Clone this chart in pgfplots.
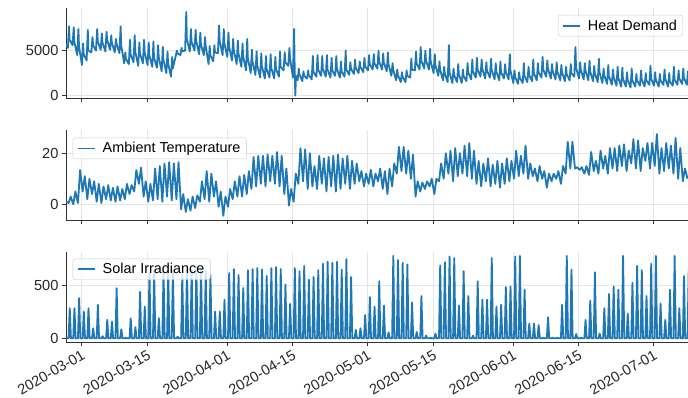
\documentclass[border=0pt]{standalone}
\usepackage{fontspec}
\setmainfont{Liberation Sans}
\usepackage{pgfplots}
\pgfplotsset{compat=1.18}
\definecolor{mplblue}{RGB}{31,119,180}
\pgfplotsset{
 myax/.style={
  width=622pt, height=90pt, scale only axis,
  xmin=-3.35, xmax=129.3,
  axis lines=left, axis line style={-, draw=black!80, line width=0.8pt},
  tick align=outside, major tick length=4pt,
  tick style={black!80, line width=0.8pt},
  xtick={0,14,31,45,61,75,92,106,122},
  xmajorgrids, ymajorgrids, grid style={black!10, line width=0.8pt},
  ticklabel style={font=\fontsize{14.6}{17}\selectfont, text=black!85},
  /pgf/number format/assume math mode=true,
  /pgf/number format/1000 sep={},
  legend cell align=left,
  legend image code/.code={\draw[mplblue, line width=1.8pt] (0pt,0pt) -- (17pt,0pt);},
  legend style={draw=black!20, rounded corners=2.5pt, fill=white, fill opacity=0.8, text opacity=1,
    font=\fontsize{14.4}{17}\selectfont, inner xsep=4pt, inner ysep=2.5pt, column sep=5pt},
 },
 myline/.style={color=mplblue, line width=1.8pt, line join=round},
}
\begin{document}
\begin{tikzpicture}
\path[use as bounding box] (0,0) rectangle (688pt,397pt);
% Heat demand
\begin{axis}[myax, at={(66pt,298.7pt)}, anchor=south west,
  ymin=-300, ymax=9700, ytick={0,5000}, xticklabels={},
  legend style={at={(0.992,0.926)}, anchor=north east}]
\addplot[myline] coordinates {
(-3.35,5800)
(-2.95,5300) (-2.7,7700) (-2.58,6200)
(-1.95,5600) (-1.7,7600) (-1.58,6000)
(-0.95,4500) (-0.7,7400) (-0.58,5500)
(0.05,3400) (0.3,5800) (0.42,4600)
(1.05,3900) (1.3,7300) (1.42,5000)
(2.05,4800) (2.3,6500) (2.42,5600)
(3.05,5000) (3.3,7400) (3.42,6000)
(4.05,5100) (4.3,6900) (4.42,5900)
(5.05,4900) (5.3,7100) (5.42,6200)
(6.05,5100) (6.3,6700) (6.42,5900)
(7.05,4800) (7.3,6300) (7.42,5800)
(8.05,4700) (8.3,7700) (8.42,5600)
(9.05,3600) (9.3,4800) (9.42,4100)
(10.05,3500) (10.3,6200) (10.42,4600)
(11.05,3700) (11.3,6700) (11.42,4900)
(12.05,3300) (12.3,5900) (12.42,4700)
(13.05,3600) (13.3,6200) (13.42,4800)
(14.05,3400) (14.3,5900) (14.42,4500)
(15.05,3200) (15.3,6000) (15.42,4200)
(16.05,3100) (16.3,5600) (16.42,4300)
(17.05,2700) (17.3,5400) (17.42,4000)
(18.05,2500) (18.3,4900) (18.42,3600)
(19.05,2100) (19.3,4300) (19.42,3000)
(20.05,4400) (20.3,5000) (20.42,4700)
(21.05,4500) (21.3,5300) (21.42,4900)
(22.05,5000) (22.3,9300) (22.42,6300)
(23.05,4900) (23.3,7400) (23.42,6000)
(24.05,5000) (24.3,7300) (24.42,6100)
(25.05,4600) (25.3,7000) (25.42,5700)
(26.05,4500) (26.3,6500) (26.42,5600)
(27.05,3500) (27.3,5500) (27.42,4500)
(28.05,3800) (28.3,5600) (28.42,4800)
(29.05,4700) (29.3,7800) (29.42,6100)
(30.05,4500) (30.3,7400) (30.42,5800)
(31.05,4300) (31.3,7000) (31.42,5500)
(32.05,3900) (32.3,6300) (32.42,5100)
(33.05,3500) (33.3,6100) (33.42,4700)
(34.05,3200) (34.3,5800) (34.42,4400)
(35.05,2800) (35.3,6300) (35.42,4200)
(36.05,2500) (36.3,5100) (36.42,3800)
(37.05,2300) (37.3,4900) (37.42,3400)
(38.05,2000) (38.3,4700) (38.42,3300)
(39.05,1900) (39.3,4400) (39.42,3000)
(40.05,2000) (40.3,4600) (40.42,3100)
(41.05,1900) (41.3,4300) (41.42,3000)
(42.05,2100) (42.3,4900) (42.42,3200)
(43.05,2800) (43.3,4800) (43.42,3700)
(44.05,3300) (44.3,5300) (44.42,4200)
(45.05,2000) (45.3,7400) (45.42,3000) (45.55,0) (45.7,2200)
(46.05,1700) (46.3,3000) (46.42,2400)
(47.05,1600) (47.3,2700) (47.42,2200)
(48.05,1900) (48.3,2800) (48.42,2300)
(49.05,1800) (49.3,4400) (49.42,2600)
(50.05,2100) (50.3,4500) (50.42,2900)
(51.05,2200) (51.3,4400) (51.42,3000)
(52.05,2100) (52.3,4500) (52.42,2900)
(53.05,2000) (53.3,4200) (53.42,2800)
(54.05,2200) (54.3,4400) (54.42,3000)
(55.05,2000) (55.3,3800) (55.42,2700)
(56.05,2100) (56.3,5000) (56.42,2900)
(57.05,2300) (57.3,3700) (57.42,3000)
(58.05,2400) (58.3,4000) (58.42,3100)
(59.05,2500) (59.3,3800) (59.42,3200)
(60.05,2600) (60.3,4200) (60.42,3300)
(61.05,2800) (61.3,4500) (61.42,3500)
(62.05,2900) (62.3,4600) (62.42,3600)
(63.05,3000) (63.3,5000) (63.42,3800)
(64.05,2900) (64.3,4700) (64.42,3700)
(65.05,2700) (65.3,4800) (65.42,3500)
(66.05,2200) (66.3,3600) (66.42,2900)
(67.05,1700) (67.3,2900) (67.42,2300)
(68.05,1500) (68.3,2600) (68.42,2100)
(69.05,1500) (69.3,2800) (69.42,2200)
(70.05,2000) (70.3,4100) (70.42,2900)
(71.05,2800) (71.3,4900) (71.42,3600)
(72.05,2900) (72.3,5400) (72.42,3900)
(73.05,3000) (73.3,5000) (73.42,3900)
(74.05,2900) (74.3,5200) (74.42,3800)
(75.05,2500) (75.3,4600) (75.42,3400)
(76.05,2200) (76.3,3800) (76.42,2900)
(77.05,1700) (77.3,3200) (77.42,2500)
(78.05,1500) (78.3,5600) (78.42,2600)
(79.05,1400) (79.3,3000) (79.42,2300)
(80.05,1500) (80.3,3500) (80.42,2400)
(81.05,1400) (81.3,2900) (81.42,2200)
(82.05,1600) (82.3,3600) (82.42,2600)
(83.05,1800) (83.3,4000) (83.42,2700)
(84.05,2000) (84.3,4200) (84.42,2900)
(85.05,2100) (85.3,4000) (85.42,3000)
(86.05,1900) (86.3,3700) (86.42,2800)
(87.05,2000) (87.3,4100) (87.42,2900)
(88.05,1800) (88.3,3600) (88.42,2700)
(89.05,1700) (89.3,3800) (89.42,2600)
(90.05,1900) (90.3,3500) (90.42,2700)
(91.05,1800) (91.3,4600) (91.42,2800)
(92.05,1400) (92.3,2800) (92.42,2100)
(93.05,1300) (93.3,2600) (93.42,2000)
(94.05,1400) (94.3,3600) (94.42,2200)
(95.05,1500) (95.3,3200) (95.42,2300)
(96.05,1600) (96.3,4000) (96.42,2500)
(97.05,1700) (97.3,3600) (97.42,2600)
(98.05,2000) (98.3,4300) (98.42,2900)
(99.05,2100) (99.3,3900) (99.42,3000)
(100.05,1900) (100.3,3500) (100.42,2800)
(101.05,1800) (101.3,3700) (101.42,2700)
(102.05,1700) (102.3,3400) (102.42,2600)
(103.05,1600) (103.3,3200) (103.42,2400)
(104.05,1700) (104.3,3500) (104.42,2500)
(105.05,2100) (105.3,5400) (105.42,3100)
(106.05,1900) (106.3,3700) (106.42,2900)
(107.05,1800) (107.3,3600) (107.42,2800)
(108.05,1700) (108.3,3900) (108.42,2700)
(109.05,1600) (109.3,3300) (109.42,2500)
(110.05,1500) (110.3,4100) (110.42,2600)
(111.05,1400) (111.3,3000) (111.42,2300)
(112.05,1300) (112.3,3400) (112.42,2200)
(113.05,1200) (113.3,2900) (113.42,2100)
(114.05,1100) (114.3,3200) (114.42,2000)
(115.05,1000) (115.3,3100) (115.42,1900)
(116.05,1000) (116.3,2600) (116.42,1800)
(117.05,900) (117.3,3000) (117.42,1700)
(118.05,1000) (118.3,2400) (118.42,1700)
(119.05,1100) (119.3,2800) (119.42,1800)
(120.05,1000) (120.3,2500) (120.42,1700)
(121.05,1200) (121.3,3300) (121.42,1900)
(122.05,1100) (122.3,2600) (122.42,1800)
(123.05,1000) (123.3,2400) (123.42,1700)
(124.05,1200) (124.3,2900) (124.42,1900)
(125.05,1000) (125.3,2500) (125.42,1600)
(126.05,1100) (126.3,3200) (126.42,1800)
(127.05,1200) (127.3,2800) (127.42,1900)
(128.05,1300) (128.3,3000) (128.42,2000)
(129.05,1200) (129.3,2700) (129.42,1900)
};
\addlegendentry{Heat Demand}
\end{axis}
% Ambient temperature
\begin{axis}[myax, at={(66pt,177pt)}, anchor=south west,
  ymin=-6.16, ymax=29.1, ytick={0,20}, xticklabels={},
  legend style={at={(0.0108,0.914)}, anchor=north west}]
\addplot[myline] coordinates {
(-3.35,1)
(-2.8,0.5) (-2.35,3)
(-1.8,0) (-1.35,5)
(-0.8,0.5) (-0.35,13.4)
(0.2,5) (0.65,11)
(1.2,2) (1.65,10)
(2.2,4) (2.65,9)
(3.2,1) (3.65,8)
(4.2,0.5) (4.65,7)
(5.2,2) (5.65,7.5)
(6.2,1.5) (6.65,6.5)
(7.2,1) (7.65,7)
(8.2,1.5) (8.65,6)
(9.2,2) (9.65,8)
(10.2,4) (10.65,7.5)
(11.2,5) (11.65,13.4)
(12.2,8) (12.65,14.4)
(13.2,3) (13.65,9)
(14.2,1) (14.65,8)
(15.2,1.5) (15.65,14)
(16.2,2) (16.65,15)
(17.2,1) (17.65,16)
(18.2,3) (18.65,16.5)
(19.2,1.5) (19.65,16)
(20.2,2) (20.65,16.5)
(21.2,-2) (21.65,4)
(22.2,-3) (22.65,2)
(23.2,-2.5) (23.65,3)
(24.2,-1.5) (24.65,3.5)
(25.2,1) (25.65,9)
(26.2,2) (26.65,13)
(27.2,1) (27.65,12)
(28.2,3) (28.65,9)
(29.2,-1) (29.65,5)
(30.2,-4.5) (30.65,3)
(31.2,-1) (31.65,6)
(32.2,2) (32.65,9)
(33.2,3) (33.65,11)
(34.2,3) (34.65,11.5)
(35.2,4) (35.65,13)
(36.2,6) (36.65,18.5)
(37.2,7) (37.65,19)
(38.2,8) (38.65,19)
(39.2,7) (39.65,19.5)
(40.2,9) (40.65,19)
(41.2,8) (41.65,20.5)
(42.2,7) (42.65,19)
(43.2,4) (43.65,14)
(44.2,-0.5) (44.65,6)
(45.2,1) (45.65,12)
(46.2,8) (46.65,22)
(47.2,9) (47.65,21.5)
(48.2,6) (48.65,20)
(49.2,7) (49.65,15)
(50.2,6) (50.65,19)
(51.2,8) (51.65,18)
(52.2,5) (52.65,18.5)
(53.2,7) (53.65,19)
(54.2,5) (54.65,19.5)
(55.2,6) (55.65,18)
(56.2,8) (56.65,19)
(57.2,6) (57.65,17)
(58.2,8) (58.65,16)
(59.2,9) (59.65,13)
(60.2,7) (60.65,12)
(61.2,8) (61.65,13.5)
(62.2,7) (62.65,12)
(63.2,9) (63.65,14)
(64.2,6) (64.65,13)
(65.2,4) (65.65,14)
(66.2,7) (66.65,16)
(67.2,12) (67.65,22.5)
(68.2,13) (68.65,22.5)
(69.2,12) (69.65,21)
(70.2,10) (70.65,19.5)
(71.2,3) (71.65,9)
(72.2,5) (72.65,8.5)
(73.2,6) (73.65,9)
(74.2,7) (74.65,10)
(75.2,4) (75.65,10)
(76.2,9) (76.65,16)
(77.2,10) (77.65,20)
(78.2,12) (78.65,21)
(79.2,9) (79.65,22)
(80.2,11) (80.65,20)
(81.2,12) (81.65,23)
(82.2,11) (82.65,24)
(83.2,10) (83.65,21)
(84.2,8) (84.65,17)
(85.2,7) (85.65,16)
(86.2,9) (86.65,18)
(87.2,7) (87.65,15.5)
(88.2,8) (88.65,17)
(89.2,6.5) (89.65,16)
(90.2,8) (90.65,18)
(91.2,9) (91.65,17)
(92.2,10) (92.65,21)
(93.2,11) (93.65,19)
(94.2,12) (94.65,23)
(95.2,10) (95.65,16)
(96.2,11) (96.65,14)
(97.2,9) (97.65,15)
(98.2,10) (98.65,13)
(99.2,6.5) (99.65,12)
(100.2,9) (100.65,12)
(101.2,10) (101.65,13)
(102.2,8) (102.65,15)
(103.2,12) (103.65,24.5)
(104.2,14) (104.65,24.5)
(105.2,14) (105.65,14.5)
(106.2,13.5) (106.65,14.5)
(107.2,12) (107.65,15)
(108.2,11.5) (108.65,20.5)
(109.2,13) (109.65,17)
(110.2,12) (110.65,21)
(111.2,14) (111.65,19)
(112.2,12) (112.65,22)
(113.2,14) (113.65,22)
(114.2,13) (114.65,23)
(115.2,15) (115.65,23.5)
(116.2,13) (116.65,21)
(117.2,16) (117.65,25.5)
(118.2,14) (118.65,25)
(119.2,13) (119.65,22)
(120.2,17) (120.65,24)
(121.2,14) (121.65,24)
(122.2,15) (122.65,27.5)
(123.2,12) (123.65,22)
(124.2,13) (124.65,24)
(125.2,14) (125.65,23)
(126.2,12) (126.65,26)
(127.2,10) (127.65,22)
(128.2,9) (128.65,14)
(129.2,10)
};
\addlegendentry{Ambient Temperature}
\end{axis}
% Solar irradiance
\begin{axis}[myax, at={(66pt,54.7pt)}, anchor=south west,
  ymin=-38, ymax=814, ytick={0,500},
  xticklabels={2020-03-01,2020-03-15,2020-04-01,2020-04-15,2020-05-01,2020-05-15,2020-06-01,2020-06-15,2020-07-01},
  xticklabel style={rotate=30, anchor=north east, inner sep=2pt},
  legend style={at={(0.0108,0.93)}, anchor=north west}]
\addplot[myline] coordinates {
(-3.35,0)
(-2.8,0) (-2.55,285) (-2.3,0)
(-1.8,0) (-1.55,285) (-1.3,0)
(-0.8,0) (-0.55,380) (-0.3,0)
(0.2,0) (0.45,253) (0.7,0)
(1.2,0) (1.45,285) (1.7,0)
(2.2,0) (2.45,95) (2.7,0)
(3.2,0) (3.45,317) (3.7,0)
(4.2,0) (4.45,20) (4.7,0)
(5.2,0) (5.45,174) (5.7,0)
(6.2,0) (6.45,158) (6.7,0)
(7.2,0) (7.45,475) (7.7,0)
(8.2,0) (8.45,85) (8.7,0)
(9.2,0) (9.45,5) (9.7,0)
(10.2,0) (10.45,190) (10.7,0)
(11.2,0) (11.45,105) (11.7,0)
(12.2,0) (12.45,440) (12.7,0)
(13.2,0) (13.45,300) (13.7,0)
(14.2,0) (14.45,620) (14.7,0)
(15.2,0) (15.45,640) (15.7,0)
(16.2,0) (16.45,190) (16.7,0)
(17.2,0) (17.45,650) (17.7,0)
(18.2,0) (18.45,660) (18.7,0)
(19.2,0) (19.45,640) (19.7,0)
(20.2,0) (20.45,15) (20.7,0)
(21.2,0) (21.45,600) (21.7,0)
(22.2,0) (22.45,670) (22.7,0)
(23.2,0) (23.45,650) (23.7,0)
(24.2,0) (24.45,680) (24.7,0)
(25.2,0) (25.45,660) (25.7,0)
(26.2,0) (26.45,640) (26.7,0)
(27.2,0) (27.45,600) (27.7,0)
(28.2,0) (28.45,253) (28.7,0)
(29.2,0) (29.45,253) (29.7,0)
(30.2,0) (30.45,365) (30.7,0)
(31.2,0) (31.45,618) (31.7,0)
(32.2,0) (32.45,655) (32.7,0)
(33.2,0) (33.45,600) (33.7,0)
(34.2,0) (34.45,475) (34.7,0)
(35.2,0) (35.45,645) (35.7,0)
(36.2,0) (36.45,655) (36.7,0)
(37.2,0) (37.45,665) (37.7,0)
(38.2,0) (38.45,650) (38.7,0)
(39.2,0) (39.45,590) (39.7,0)
(40.2,0) (40.45,665) (40.7,0)
(41.2,0) (41.45,675) (41.7,0)
(42.2,0) (42.45,655) (42.7,0)
(43.2,0) (43.45,510) (43.7,0)
(44.2,0) (44.45,325) (44.7,0)
(45.2,0) (45.45,665) (45.7,0)
(46.2,0) (46.45,635) (46.7,0)
(47.2,0) (47.45,685) (47.7,0)
(48.2,0) (48.45,555) (48.7,0)
(49.2,0) (49.45,580) (49.7,0)
(50.2,0) (50.45,645) (50.7,0)
(51.2,0) (51.45,705) (51.7,0)
(52.2,0) (52.45,725) (52.7,0)
(53.2,0) (53.45,715) (53.7,0)
(54.2,0) (54.45,725) (54.7,0)
(55.2,0) (55.45,650) (55.7,0)
(56.2,0) (56.45,750) (56.7,0)
(57.2,0) (57.45,580) (57.7,0)
(58.2,0) (58.45,80) (58.7,0)
(59.2,0) (59.45,95) (59.7,0)
(60.2,0) (60.45,220) (60.7,0)
(61.2,0) (61.45,390) (61.7,0)
(62.2,0) (62.45,300) (62.7,0)
(63.2,0) (63.45,540) (63.7,0)
(64.2,0) (64.45,310) (64.7,0)
(65.2,0) (65.45,55) (65.7,0)
(66.2,0) (66.45,780) (66.7,0)
(67.2,0) (67.45,740) (67.7,0)
(68.2,0) (68.45,715) (68.7,0)
(69.2,0) (69.45,700) (69.7,0)
(70.2,0) (70.45,340) (70.7,0)
(71.2,0) (71.45,60) (71.7,0)
(72.2,0) (72.45,400) (72.7,0)
(73.2,0) (73.45,25) (73.7,0)
(74.2,0) (74.45,5) (74.7,0)
(75.2,0) (75.45,45) (75.7,0)
(76.2,0) (76.45,690) (76.7,0)
(77.2,0) (77.45,720) (77.7,0)
(78.2,0) (78.45,775) (78.7,0)
(79.2,0) (79.45,760) (79.7,0)
(80.2,0) (80.45,310) (80.7,0)
(81.2,0) (81.45,635) (81.7,0)
(82.2,0) (82.45,400) (82.7,0)
(83.2,0) (83.45,25) (83.7,0)
(84.2,0) (84.45,540) (84.7,0)
(85.2,0) (85.45,365) (85.7,0)
(86.2,0) (86.45,365) (86.7,0)
(87.2,0) (87.45,760) (87.7,0)
(88.2,0) (88.45,300) (88.7,0)
(89.2,0) (89.45,317) (89.7,0)
(90.2,0) (90.45,485) (90.7,0)
(91.2,0) (91.45,490) (91.7,0)
(92.2,0) (92.45,775) (92.7,0)
(93.2,0) (93.45,780) (93.7,0)
(94.2,0) (94.45,460) (94.7,0)
(95.2,0) (95.45,140) (95.7,0)
(96.2,0) (96.45,140) (96.7,0)
(97.2,0) (97.45,125) (97.7,0)
(98.2,0) (98.45,5) (98.7,0)
(99.2,0) (99.45,200) (99.7,0)
(100.2,0) (100.45,5) (100.7,0)
(101.2,0) (101.45,5) (101.7,0)
(102.2,0) (102.45,317) (102.7,0)
(103.2,0) (103.45,780) (103.7,0)
(104.2,0) (104.45,650) (104.7,0)
(105.2,0) (105.45,40) (105.7,0)
(106.2,0) (106.45,5) (106.7,0)
(107.2,0) (107.45,174) (107.7,0)
(108.2,0) (108.45,355) (108.7,0)
(109.2,0) (109.45,625) (109.7,0)
(110.2,0) (110.45,45) (110.7,0)
(111.2,0) (111.45,285) (111.7,0)
(112.2,0) (112.45,420) (112.7,0)
(113.2,0) (113.45,490) (113.7,0)
(114.2,0) (114.45,460) (114.7,0)
(115.2,0) (115.45,780) (115.7,0)
(116.2,0) (116.45,235) (116.7,0)
(117.2,0) (117.45,525) (117.7,0)
(118.2,0) (118.45,685) (118.7,0)
(119.2,0) (119.45,645) (119.7,0)
(120.2,0) (120.45,400) (120.7,0)
(121.2,0) (121.45,705) (121.7,0)
(122.2,0) (122.45,780) (122.7,0)
(123.2,0) (123.45,330) (123.7,0)
(124.2,0) (124.45,174) (124.7,0)
(125.2,0) (125.45,460) (125.7,0)
(126.2,0) (126.45,780) (126.7,0)
(127.2,0) (127.45,285) (127.7,0)
(128.2,0) (128.45,590) (128.7,0)
(129.2,0) (129.45,650) (129.7,0)
};
\addlegendentry{Solar Irradiance}
\end{axis}
\end{tikzpicture}
\end{document}
